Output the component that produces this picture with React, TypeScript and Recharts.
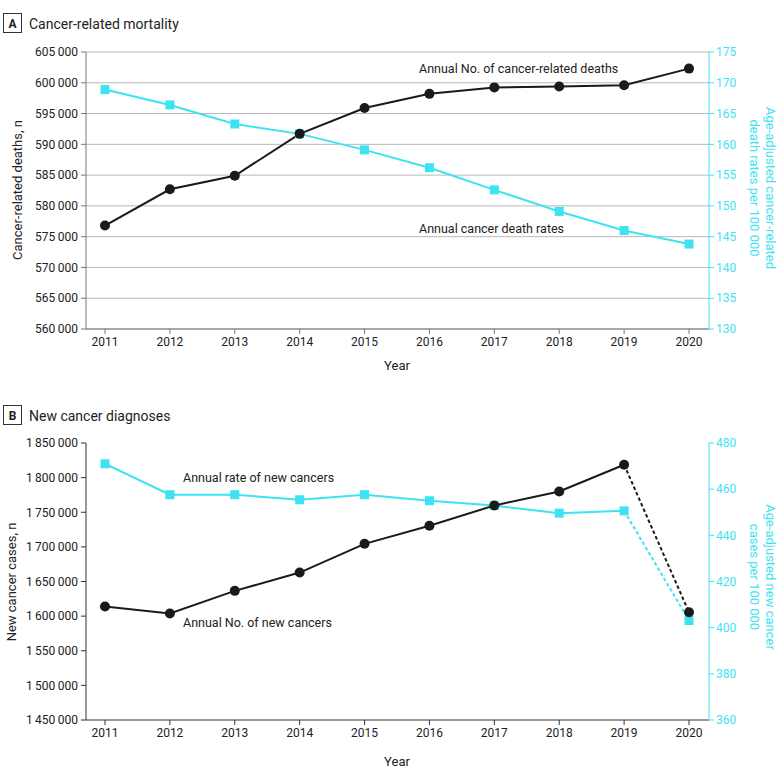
import { LineChart, Line, XAxis, YAxis, CartesianGrid } from 'recharts';

const YEARS = ['2011', '2012', '2013', '2014', '2015', '2016', '2017', '2018', '2019', '2020'];

// panel A
const DEATHS = [576800, 582700, 584900, 591700, 595900, 598200, 599250, 599400, 599600, 602300];
const DEATH_RATES = [168.9, 166.4, 163.3, 161.7, 159.1, 156.2, 152.6, 149.1, 146.0, 143.8];
const DEATH_TICKS = [560000, 565000, 570000, 575000, 580000, 585000, 590000, 595000, 600000, 605000];
const DEATH_RATE_TICKS = [130, 135, 140, 145, 150, 155, 160, 165, 170, 175];

// panel B
const NEW_CASES = [1613800, 1603700, 1636500, 1662900, 1704400, 1730400, 1759800, 1780000, 1818600, 1605700];
const NEW_RATES = [471.0, 457.6, 457.6, 455.4, 457.6, 455.0, 452.9, 449.6, 450.6, 403.1];
const CASE_TICKS = [1450000, 1500000, 1550000, 1600000, 1650000, 1700000, 1750000, 1800000, 1850000];
const CASE_RATE_TICKS = [360, 380, 400, 420, 440, 460, 480];

const CYAN = '#3EE3F2';
const INK = '#1a1a1a';
const FONT = 'Roboto, "Noto Sans", sans-serif';

const fmt = (v: number) => v.toLocaleString('en-US').replace(/,/g, '\u2009');

const deathData = YEARS.map((year, i) => ({ year, deaths: DEATHS[i], rate: DEATH_RATES[i] }));

// 2019 -> 2020 segment is dashed in panel B
const last = YEARS.length - 1;
const caseData = YEARS.map((year, i) => ({
  year,
  cases: i < last ? NEW_CASES[i] : null,
  rate: i < last ? NEW_RATES[i] : null,
  casesDash: i >= last - 1 ? NEW_CASES[i] : null,
  rateDash: i >= last - 1 ? NEW_RATES[i] : null,
}));

const square = (props: any) => {
  const { cx, cy, index } = props;
  if (cx == null || cy == null) return <g key={index} />;
  return <rect key={index} x={cx - 4.5} y={cy - 4.5} width={9} height={9} fill={CYAN} />;
};
const circle = (props: any) => {
  const { cx, cy, index } = props;
  if (cx == null || cy == null) return <g key={index} />;
  return <circle key={index} cx={cx} cy={cy} r={5} fill={INK} />;
};
const onlyLast = (shape: (p: any) => any) => (props: any) =>
  props.index === last ? shape(props) : <g key={props.index} />;

const tickStyle = { fontSize: 12, fill: '#222', fontFamily: FONT };
const cyanTick = { fontSize: 12, fill: CYAN, fontFamily: FONT };

function PanelTitle({ y, letter, title }: { y: number; letter: string; title: string }) {
  return (
    <g>
      <rect x={3.5} y={y} width={18} height={19} fill="none" stroke="#333" strokeWidth={1} />
      <text x={12.5} y={y + 14} textAnchor="middle" fontSize={12} fontWeight="bold" fill="#222">{letter}</text>
      <text x={29} y={y + 15} fontSize={14} fill="#222">{title}</text>
    </g>
  );
}

export default function App() {
  return (
    <div style={{ position: 'absolute', left: 0, top: 0, width: 780, height: 775, background: '#fff', fontFamily: FONT }}>
      <div style={{ position: 'absolute', left: 0, top: 0 }}>
        <LineChart width={780} height={380} data={deathData} margin={{ top: 52, right: 0, bottom: 21, left: 0 }}>
          <CartesianGrid yAxisId="left" vertical={false} stroke="#b8b8b8" strokeWidth={1} />
          <XAxis dataKey="year" padding={{ left: 19, right: 20 }} height={30} tickSize={5} tickMargin={3}
            stroke="#777" tick={tickStyle} interval={0} />
          <YAxis yAxisId="left" domain={[560000, 605000]} ticks={DEATH_TICKS} interval={0} width={86}
            tickSize={5} tickMargin={3} stroke="#777" tick={tickStyle} tickFormatter={fmt} allowDataOverflow />
          <YAxis yAxisId="right" orientation="right" domain={[130, 175]} ticks={DEATH_RATE_TICKS} interval={0}
            width={71} tickSize={5} tickMargin={2} stroke={CYAN} tick={cyanTick} allowDataOverflow />
          <Line yAxisId="right" dataKey="rate" stroke={CYAN} strokeWidth={2} dot={square} isAnimationActive={false} />
          <Line yAxisId="left" dataKey="deaths" stroke={INK} strokeWidth={2} dot={circle} isAnimationActive={false} />
        </LineChart>
      </div>
      <div style={{ position: 'absolute', left: 0, top: 390 }}>
        <LineChart width={780} height={385} data={caseData} margin={{ top: 53, right: 0, bottom: 25, left: 0 }}>
          <XAxis dataKey="year" padding={{ left: 19, right: 20 }} height={30} tickSize={5} tickMargin={3}
            stroke="#333" tick={tickStyle} interval={0} />
          <YAxis yAxisId="left" domain={[1450000, 1850000]} ticks={CASE_TICKS} interval={0} width={86}
            tickSize={5} tickMargin={3} stroke="#333" tick={tickStyle} tickFormatter={fmt} allowDataOverflow />
          <YAxis yAxisId="right" orientation="right" domain={[360, 480]} ticks={CASE_RATE_TICKS} interval={0}
            width={71} tickSize={5} tickMargin={2} stroke={CYAN} tick={cyanTick} allowDataOverflow />
          <Line yAxisId="right" dataKey="rateDash" stroke={CYAN} strokeWidth={2} strokeDasharray="3.5 2.5"
            dot={onlyLast(square)} isAnimationActive={false} />
          <Line yAxisId="right" dataKey="rate" stroke={CYAN} strokeWidth={2} dot={square} isAnimationActive={false} />
          <Line yAxisId="left" dataKey="casesDash" stroke={INK} strokeWidth={2} strokeDasharray="3.5 2.5"
            dot={onlyLast(circle)} isAnimationActive={false} />
          <Line yAxisId="left" dataKey="cases" stroke={INK} strokeWidth={2} dot={circle} isAnimationActive={false} />
        </LineChart>
      </div>
      <svg width={780} height={775} style={{ position: 'absolute', left: 0, top: 0, pointerEvents: 'none' }}
        fontFamily={FONT}>
        <PanelTitle y={13.5} letter="A" title="Cancer-related mortality" />
        <PanelTitle y={405.5} letter="B" title="New cancer diagnoses" />

        <text transform="translate(17,190) rotate(-90)" textAnchor="middle" dominantBaseline="central"
          fontSize={13} fill="#222">Cancer-related deaths, n</text>
        <text x={397} y={370} textAnchor="middle" fontSize={13} fill="#222">Year</text>
        <g transform="translate(762,188) rotate(90)" fontSize={13} fill={CYAN} textAnchor="middle">
          <text x={0} y={-8.5} dominantBaseline="central">Age-adjusted cancer-related</text>
          <text x={0} y={8} dominantBaseline="central">death rates per 100 000</text>
        </g>
        <text x={419} y={73} fontSize={12.5} fill="#222">Annual No. of cancer-related deaths</text>
        <text x={419} y={233} fontSize={12.5} fill="#222">Annual cancer death rates</text>

        <text transform="translate(11,582) rotate(-90)" textAnchor="middle" dominantBaseline="central"
          fontSize={13} fill="#222">New cancer cases, n</text>
        <text x={397} y={766} textAnchor="middle" fontSize={13} fill="#222">Year</text>
        <g transform="translate(762,577) rotate(90)" fontSize={13} fill={CYAN} textAnchor="middle">
          <text x={0} y={-8.5} dominantBaseline="central">Age-adjusted new cancer</text>
          <text x={0} y={8} dominantBaseline="central">cases per 100 000</text>
        </g>
        <text x={183} y={482} fontSize={12.5} fill="#222">Annual rate of new cancers</text>
        <text x={183} y={627} fontSize={12.5} fill="#222">Annual No. of new cancers</text>
      </svg>
    </div>
  );
}
